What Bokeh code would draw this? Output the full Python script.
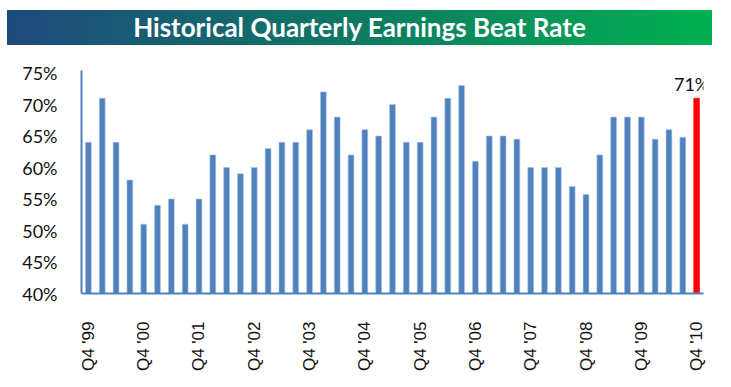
from bokeh.plotting import figure
from bokeh.models import Div, FixedTicker, Range1d
from bokeh.layouts import column
from bokeh.core.properties import value
from bokeh.embed import file_html
from bokeh.resources import INLINE
import math

title_text = "Historical Quarterly Earnings Beat Rate"

beat_rate = [64, 71, 64, 58, 51, 54, 55, 51, 55, 62,
             60, 59, 60, 63, 64, 64, 66, 72, 68, 62,
             66, 65, 70, 64, 64, 68, 71, 73, 61, 65,
             65, 64.5, 60, 60, 60, 57, 55.7, 62, 68, 68,
             68, 64.5, 66, 64.8, 71]

tick_labels = ["Q4 '99", "Q4 '00", "Q4 '01", "Q4 '02", "Q4 '03", "Q4 '04",
               "Q4 '05", "Q4 '06", "Q4 '07", "Q4 '08", "Q4 '09", "Q4 '10"]
y_ticks = [40, 45, 50, 55, 60, 65, 70, 75]

latest_label = "71%"

n = len(beat_rate)
x_idx = list(range(n))
tick_pos = x_idx[::4]

hist_x = x_idx[:-1]
hist_top = beat_rate[:-1]
last_x = [x_idx[-1]]
last_top = [beat_rate[-1]]

banner = Div(
    text=('<div style="width:705px;height:35px;'
          'background:linear-gradient(to right,#1F497D,#0E7A62 50%,#00B050);'
          'color:white;font-family:Lato;font-weight:bold;font-size:26px;'
          'display:flex;align-items:center;justify-content:center;">'
          + title_text + '</div>'),
    width=705, height=35, margin=(10, 0, 0, 7))

p = figure(width=711, height=329, output_backend="svg", toolbar_location=None,
           x_range=Range1d(-0.5, n - 0.5), y_range=Range1d(40, 75.4),
           min_border_left=74, min_border_right=15, min_border_top=25,
           min_border_bottom=80, margin=(0, 0, 0, 7))
p.outline_line_color = None
p.xgrid.visible = False
p.ygrid.visible = False

p.vbar(x=hist_x, top=hist_top, bottom=40, width=0.42,
       fill_color="#4F81BD", line_color="#A9C2E0", line_width=0.6)
p.vbar(x=last_x, top=last_top, bottom=40, width=0.42,
       fill_color="#FF0000", line_color="#FF0000", line_width=0.5)

p.text(x=last_x, y=last_top, text=[latest_label], text_align="center",
       text_baseline="bottom", x_offset=-5, y_offset=-3,
       text_font=value("Lato"), text_font_size="18px", text_color="#111111")

p.yaxis.ticker = FixedTicker(ticks=y_ticks)
p.yaxis.major_label_overrides = {t: f"{t}%" for t in y_ticks}
p.yaxis.axis_line_color = "#4F81BD"
p.yaxis.axis_line_width = 2
p.yaxis.major_tick_line_color = None
p.yaxis.minor_tick_line_color = None
p.yaxis.major_label_text_font = "Lato"
p.yaxis.major_label_text_font_size = "18px"
p.yaxis.major_label_text_color = "#111111"
p.yaxis.major_label_standoff = 18

p.xaxis.ticker = FixedTicker(ticks=tick_pos)
p.xaxis.major_label_overrides = {pos: lab for pos, lab in zip(tick_pos, tick_labels)}
p.xaxis.major_label_orientation = math.pi / 2
p.xaxis.axis_line_color = "#4F81BD"
p.xaxis.axis_line_width = 2
p.xaxis.major_tick_line_color = None
p.xaxis.minor_tick_line_color = None
p.xaxis.major_label_text_font = "Liberation Sans"
p.xaxis.major_label_text_font_size = "17px"
p.xaxis.major_label_text_color = "#111111"
p.xaxis.major_label_standoff = 22

layout = column(banner, p, spacing=0)
open("out.html", "w").write(file_html(layout, INLINE))
